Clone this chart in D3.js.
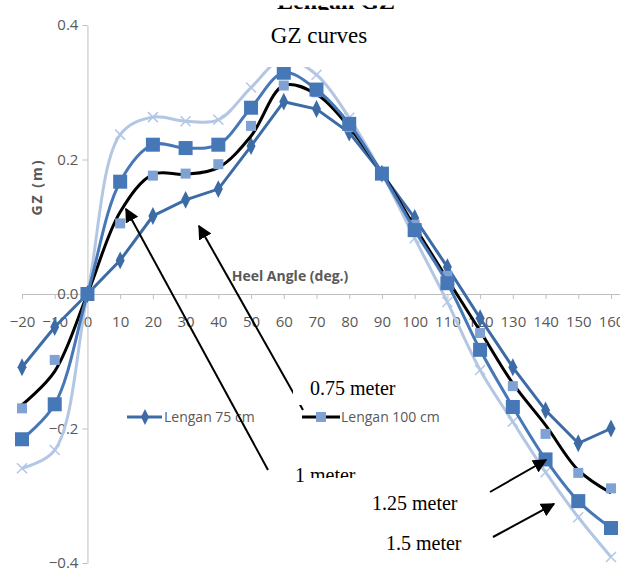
<!DOCTYPE html>
<html lang="en">
<head>
<meta charset="utf-8">
<title>GZ curves</title>
<script src="https://d3js.org/d3.v7.min.js"></script>
<style>
  body { margin: 0; background: #fff; }
  .tick text { font-family: "Open Sans", sans-serif; font-size: 15px; fill: #595959; }
  .axis path, .axis line { stroke: #bfbfbf; }
  .lbl { font-family: "Open Sans", sans-serif; font-weight: bold; font-size: 14px; fill: #595959; }
  .leg { font-family: "Open Sans", sans-serif; font-size: 14px; fill: #595959; }
  .serif { font-family: "Liberation Serif", "Times New Roman", serif; fill: #000; }
</style>
</head>
<body>
<div id="chart"></div>
<script>
// heel angles (deg.)
var angles = [-20, -10, 0, 10, 20, 30, 40, 50, 60, 70, 80, 90, 100, 110, 120, 130, 140, 150, 160];

// GZ values (m)
var gz75   = [-0.109, -0.049, 0, 0.050, 0.116, 0.140, 0.156, 0.220, 0.286, 0.275, 0.240, 0.179, 0.113, 0.040, -0.036, -0.109, -0.173, -0.222, -0.200];
var gz100  = [-0.170, -0.098, 0, 0.105, 0.176, 0.179, 0.193, 0.250, 0.310, 0.300, 0.248, 0.179, 0.103, 0.027, -0.058, -0.137, -0.208, -0.266, -0.289];
var gz100Line = [-0.165, -0.115, 0, 0.122, 0.178, 0.178, 0.188, 0.235, 0.310, 0.297, 0.248, 0.180, 0.100, 0.022, -0.055, -0.133, -0.195, -0.262, -0.296];
var gz125  = [-0.216, -0.164, 0, 0.167, 0.222, 0.217, 0.222, 0.277, 0.329, 0.304, 0.253, 0.179, 0.095, 0.016, -0.083, -0.168, -0.246, -0.308, -0.348];
var gz150  = [-0.259, -0.232, 0, 0.237, 0.263, 0.257, 0.259, 0.307, 0.350, 0.326, 0.262, 0.179, 0.083, -0.012, -0.113, -0.190, -0.265, -0.332, -0.391];

var yTicks = [-0.4, -0.2, 0.0, 0.2, 0.4];
var legendNames = ["Lengan 75 cm", "Lengan 100 cm"];

var width = 620, height = 574;

var svg = d3.select("#chart").append("svg")
  .attr("width", width)
  .attr("height", height);

var x = d3.scaleLinear().domain([-20, 160]).range([22, 611]);
var y = d3.scaleLinear().domain([-0.4, 0.4]).range([563, 25]);

// axes
svg.append("g")
  .attr("class", "x axis")
  .attr("transform", "translate(0," + y(0) + ")")
  .call(d3.axisBottom(x).tickValues(angles).tickSize(5).tickSizeOuter(0).tickPadding(17).tickFormat(d3.format("d")))
  .call(g => g.select(".domain").attr("d", "M" + x(-20) + ",0.5H" + width));

svg.append("g")
  .attr("class", "y axis")
  .attr("transform", "translate(" + x(0) + ",0)")
  .call(d3.axisLeft(y).tickValues(yTicks).tickSize(5).tickSizeOuter(0).tickPadding(4).tickFormat(d3.format(".1f")));

svg.selectAll(".tick text").attr("fill", "#595959");

svg.append("text")
  .attr("class", "lbl")
  .attr("x", 290).attr("y", 281)
  .attr("text-anchor", "middle")
  .text("Heel Angle (deg.)");

svg.append("text")
  .attr("class", "lbl")
  .attr("transform", "translate(42,187) rotate(-90)")
  .attr("text-anchor", "middle")
  .attr("font-size", 15)
  .attr("letter-spacing", "2px")
  .text("GZ (m)");

// series
function pts(vals) { return angles.map(function(a, i) { return [x(a), y(vals[i])]; }); }
var smooth = d3.line().curve(d3.curveCatmullRom.alpha(0.5));
var straight = d3.line();

svg.append("path").attr("d", smooth(pts(gz150)))
  .attr("fill", "none").attr("stroke", "#b3c7e5").attr("stroke-width", 3);
svg.append("g").selectAll("path").data(pts(gz150)).enter().append("path")
  .attr("d", function(d) { return "M" + (d[0]-5) + "," + (d[1]-5) + "l10,10M" + (d[0]-5) + "," + (d[1]+5) + "l10,-10"; })
  .attr("stroke", "#b3c7e5").attr("stroke-width", 1.5);

svg.append("path").attr("d", straight(pts(gz75)))
  .attr("fill", "none").attr("stroke", "#3c6ba6").attr("stroke-width", 3);
svg.append("g").selectAll("path").data(pts(gz75)).enter().append("path")
  .attr("d", d3.symbol(d3.symbolDiamond, 70))
  .attr("transform", function(d) { return "translate(" + d[0] + "," + d[1] + ") scale(1,1.15)"; })
  .attr("fill", "#3c6ba6");

svg.append("path").attr("d", smooth(pts(gz100Line)))
  .attr("fill", "none").attr("stroke", "#000").attr("stroke-width", 3);
svg.append("g").selectAll("rect").data(pts(gz100)).enter().append("rect")
  .attr("x", function(d) { return d[0] - 5; }).attr("y", function(d) { return d[1] - 5; })
  .attr("width", 10).attr("height", 10)
  .attr("fill", "#7fa1d3");

svg.append("path").attr("d", smooth(pts(gz125)))
  .attr("fill", "none").attr("stroke", "#4677b7").attr("stroke-width", 3);
svg.append("g").selectAll("rect").data(pts(gz125)).enter().append("rect")
  .attr("x", function(d) { return d[0] - 7; }).attr("y", function(d) { return d[1] - 7; })
  .attr("width", 14).attr("height", 14)
  .attr("fill", "#4677b7");

// legend
var leg = svg.append("g");
leg.append("line").attr("x1", 127).attr("x2", 162).attr("y1", 417).attr("y2", 417)
  .attr("stroke", "#3c6ba6").attr("stroke-width", 3);
leg.append("path").attr("d", d3.symbol(d3.symbolDiamond, 55))
  .attr("transform", "translate(145,417) scale(1,1.15)").attr("fill", "#3c6ba6");
leg.append("text").attr("class", "leg").attr("x", 164).attr("y", 422).text(legendNames[0]);
leg.append("line").attr("x1", 302).attr("x2", 340).attr("y1", 417).attr("y2", 417)
  .attr("stroke", "#000").attr("stroke-width", 3);
leg.append("rect").attr("x", 316).attr("y", 412).attr("width", 10).attr("height", 10).attr("fill", "#7fa1d3");
leg.append("text").attr("class", "leg").attr("x", 341).attr("y", 422).text(legendNames[1]);

// annotations
var defs = svg.append("defs");
defs.append("marker").attr("id", "head")
  .attr("viewBox", "0 0 10 10").attr("refX", 9).attr("refY", 5)
  .attr("markerWidth", 7).attr("markerHeight", 7).attr("markerUnits", "strokeWidth")
  .attr("orient", "auto")
  .append("path").attr("d", "M0,0L10,5L0,10z").attr("fill", "#000");

function arrow(x1, y1, x2, y2) {
  svg.append("line").attr("x1", x1).attr("y1", y1).attr("x2", x2).attr("y2", y2)
    .attr("stroke", "#000").attr("stroke-width", 2).attr("marker-end", "url(#head)");
}

arrow(303, 410, 199, 226);
svg.append("rect").attr("x", 293).attr("y", 364).attr("width", 135).attr("height", 41).attr("fill", "#fff");
svg.append("text").attr("class", "serif").attr("x", 310).attr("y", 395).attr("font-size", 20).text("0.75 meter");

arrow(268, 470, 126, 209);
svg.append("text").attr("class", "serif").attr("x", 295).attr("y", 482).attr("font-size", 20).text("1 meter");
svg.append("rect").attr("x", 306).attr("y", 478).attr("width", 180).attr("height", 40).attr("fill", "#fff");
svg.append("text").attr("class", "serif").attr("x", 372).attr("y", 510).attr("font-size", 20).text("1.25 meter");
arrow(490, 492, 546, 460);

svg.append("text").attr("class", "serif").attr("x", 386).attr("y", 550).attr("font-size", 20).text("1.5 meter");
arrow(493, 537, 554, 504);

// leftover of the original heading, mostly hidden by the title box
svg.append("text").attr("class", "serif")
  .attr("x", 395).attr("y", 8.5).attr("text-anchor", "end")
  .attr("font-size", 24).attr("font-weight", "bold").text("Lengan GZ");
svg.append("rect").attr("x", 230).attr("y", 0).attr("width", 192).attr("height", 5.5).attr("fill", "#fff");
svg.append("rect").attr("x", 232).attr("y", 10).attr("width", 190).attr("height", 57).attr("fill", "#fff");
svg.append("text").attr("class", "serif").attr("x", 319).attr("y", 43)
  .attr("text-anchor", "middle").attr("font-size", 23).text("GZ curves");
</script>
</body>
</html>
